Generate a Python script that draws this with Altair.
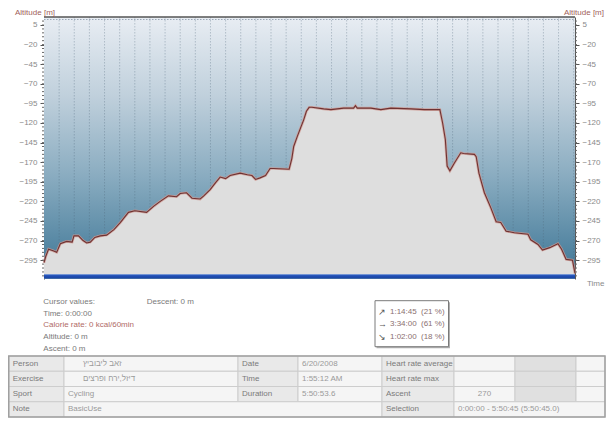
import altair as alt
import pandas as pd

# ---------------- data ----------------
time_h = [0.00, 0.02, 0.05, 0.10, 0.14, 0.18, 0.25, 0.31, 0.33, 0.38, 0.43, 0.47,
          0.51, 0.56, 0.62, 0.69, 0.77, 0.84, 0.93, 1.00, 1.13, 1.21, 1.28, 1.37,
          1.46, 1.50, 1.57, 1.63, 1.72, 1.76, 1.83, 1.89, 1.94, 2.00, 2.05, 2.16,
          2.24, 2.29, 2.33, 2.38, 2.44, 2.49, 2.53, 2.70, 2.73, 2.75, 2.79, 2.83,
          2.86, 2.89, 2.92, 2.95, 3.08, 3.16, 3.30, 3.41, 3.43, 3.45, 3.60, 3.71,
          3.82, 4.04, 4.19, 4.36, 4.39, 4.42, 4.44, 4.47, 4.52, 4.59, 4.62, 4.74,
          4.76, 4.79, 4.85, 4.92, 4.98, 5.03, 5.09, 5.18, 5.33, 5.36, 5.44, 5.49,
          5.57, 5.66, 5.70, 5.75, 5.82, 5.84, 5.848]
altitude_m = [-298, -290, -281, -283, -285, -274, -271, -272, -264, -264, -270, -273,
              -272, -266, -264, -263, -256, -247, -234, -232, -234, -226, -220, -213,
              -214, -210, -209, -216, -217, -213, -205, -196, -189, -191, -187, -184,
              -186, -187, -192, -190, -187, -178, -178, -179, -165, -150, -137, -125,
              -116, -105, -100, -100, -102, -103, -101, -101, -98, -101, -101, -103,
              -101, -102, -103, -103, -120, -141, -175, -181, -171, -158, -159, -160,
              -163, -184, -209, -228, -246, -247, -258, -260, -262, -269, -275, -282,
              -279, -274, -281, -294, -295, -307, -312]
area_floor_m = -318   # altitude at which the filled profile ends (bottom of plot)

x_hour_ticks = [0, 1, 2, 3, 4, 5]
y_major_ticks = [5, -20, -45, -70, -95, -120, -145, -170, -195, -220, -245, -270, -295]

axis_title_y = "Altitude [m]"
axis_title_x = "Time"

cursor_lines = ["Cursor values:", "Time: 0:00:00", "Calorie rate: 0 kcal/60min",
                "Altitude: 0 m", "Ascent: 0 m"]
cursor_side = "Descent: 0 m"

summary_arrows = ["\u2197", "\u2192", "\u2198"]
summary_times = ["1:14:45", "3:34:00", "1:02:00"]
summary_pcts = ["(21 %)", "(61 %)", "(18 %)"]

table_labels_a = ["Person", "Exercise", "Sport", "Note"]
table_values_a = ["זאב ליבוביץ", "דיזל,ירח ופרצים", "Cycling", "BasicUse"]
table_labels_b = ["Date", "Time", "Duration"]
table_values_b = ["6/20/2008", "1:55:12 AM", "5:50:53.6"]
table_labels_c = ["Heart rate average", "Heart rate max", "Ascent", "Selection"]
table_values_c = ["", "", "270", "0:00:00 - 5:50:45 (5:50:45.0)"]

# ---------------- layout / style ----------------
FONT = "Liberation Sans, Arial, Helvetica, sans-serif"
W, H = 531, 262
X_DOMAIN = [0, 5.848]
Y_DOMAIN = [-319, 15.2]
xs = alt.Scale(domain=X_DOMAIN, nice=False, zero=False)
ys = alt.Scale(domain=Y_DOMAIN, nice=False, zero=False)

TXT = "#7a7a7a"
VAL = "#9a9a9a"
TITLE_C = "#a0605a"

prof = pd.DataFrame({"t": time_h, "alt": altitude_m,
                     "floor": [area_floor_m] * len(time_h)})
one = pd.DataFrame({"k": [0]})

# background gradient of plot area
bg = alt.Chart(one).mark_rect(
    color=alt.Gradient(
        gradient="linear",
        stops=[alt.GradientStop(color="#e8edf3", offset=0),
               alt.GradientStop(color="#c0d0dc", offset=0.3),
               alt.GradientStop(color="#8badc1", offset=0.6),
               alt.GradientStop(color="#3c7595", offset=1)],
        x1=0, x2=0, y1=0, y2=1)
).encode(x=alt.value(0), x2=alt.value(W), y=alt.value(0), y2=alt.value(H))

# vertical dotted grid every 10 minutes
grid_df = pd.DataFrame({"g": [i / 6 for i in range(1, 36)]})
grid = alt.Chart(grid_df).mark_rule(
    color="#4f6678", strokeOpacity=0.32, strokeDash=[1.5, 1.5], strokeWidth=1
).encode(x=alt.X("g:Q", scale=xs, axis=None), y=alt.value(0), y2=alt.value(H - 1))

top_dots = alt.Chart(one).mark_rule(
    color="#8796a8", strokeDash=[1.5, 1.5], strokeWidth=1, strokeOpacity=0.8
).encode(x=alt.value(0), x2=alt.value(W), y=alt.value(2.5))

x_axis = alt.Axis(
    values=[i / 6 for i in range(36)],
    labelExpr="abs(datum.value - round(datum.value)) < 0.01 ? round(datum.value) + ':00:00' : ''",
    tickSize=3, tickColor="#8a8a8a", tickWidth=1, labelColor="#8a8a8a",
    labelFontSize=8, labelFont=FONT, labelPadding=3, domain=False, grid=False,
    title=None, labelFlush=False, labelOverlap=False, labelBound=False)


def y_axis(orient):
    return alt.Axis(orient=orient, values=y_major_ticks, format="d", tickSize=4,
                    tickColor="#555555", labelColor="#8a8a8a", labelFontSize=8,
                    labelFont=FONT, labelPadding=3, domain=True, domainColor="#555555",
                    domainWidth=1, grid=False, title=None, labelFlush=False,
                    labelOverlap=False)


area = alt.Chart(prof).mark_area(color="#dedede", opacity=1).encode(
    x=alt.X("t:Q", scale=xs, axis=x_axis),
    y=alt.Y("alt:Q", scale=ys, axis=y_axis("left")),
    y2="floor:Q")

halo = alt.Chart(prof).mark_line(color="#cf9a92", strokeWidth=2.6, opacity=0.8).encode(
    x=alt.X("t:Q", scale=xs, axis=None), y=alt.Y("alt:Q", scale=ys, axis=None))
line = alt.Chart(prof).mark_line(color="#6e3232", strokeWidth=1.1).encode(
    x=alt.X("t:Q", scale=xs, axis=None), y=alt.Y("alt:Q", scale=ys, axis=None))

right_axis = alt.Chart(prof).mark_line(strokeOpacity=0).encode(
    x=alt.X("t:Q", scale=xs, axis=None),
    y=alt.Y("alt:Q", scale=ys, axis=y_axis("right")))

blue = alt.Chart(one).mark_rect(
    color=alt.Gradient(gradient="linear",
                       stops=[alt.GradientStop(color="#5a86d8", offset=0),
                              alt.GradientStop(color="#2150b6", offset=0.35),
                              alt.GradientStop(color="#1a43a3", offset=1)],
                       x1=0, x2=0, y1=0, y2=1)
).encode(x=alt.value(0), x2=alt.value(W), y=alt.value(H - 4.8), y2=alt.value(H - 0.6))

top_border = alt.Chart(one).mark_rule(color="#555555", strokeWidth=1.6).encode(
    x=alt.value(0), x2=alt.value(W), y=alt.value(0))

minor_df = pd.DataFrame({"v": list(range(-315, 11, 5))})
minor_l = alt.Chart(minor_df).mark_rule(color="#666666", strokeWidth=1).encode(
    y=alt.Y("v:Q", scale=ys, axis=None), x=alt.value(-2), x2=alt.value(0))
minor_r = alt.Chart(minor_df).mark_rule(color="#666666", strokeWidth=1).encode(
    y=alt.Y("v:Q", scale=ys, axis=None), x=alt.value(W), x2=alt.value(W + 2))


def label(text, x, y, color=TXT, align="left", size=8, baseline="middle"):
    return alt.Chart(one).mark_text(
        text=text, align=align, baseline=baseline, fontSize=size, font=FONT, color=color
    ).encode(x=alt.value(x), y=alt.value(y))


texts = [
    label(axis_title_y, -29, -2.5, TITLE_C, baseline="alphabetic"),
    label(axis_title_y, 560, -2.5, TITLE_C, align="right", baseline="alphabetic"),
    label(axis_title_x, 543, 266.5, "#8a8a8a"),
    label(cursor_side, 102.7, 285, TXT),
]
cursor_y = [285, 296.7, 308.4, 320, 331.5]
for i, s in enumerate(cursor_lines):
    texts.append(label(s, -0.7, cursor_y[i], "#b06a66" if i == 2 else TXT))

# summary box
box_shadow = alt.Chart(one).mark_rect(fill="#b0b0b0").encode(
    x=alt.value(332.5), x2=alt.value(406), y=alt.value(285.2), y2=alt.value(331.2))
box = alt.Chart(one).mark_rect(fill="white", stroke="#7a7a7a", strokeWidth=1).encode(
    x=alt.value(331), x2=alt.value(404.5), y=alt.value(283.7), y2=alt.value(329.7))
summary_y = [294.5, 306.5, 319.5]
for i in range(3):
    texts.append(label(summary_arrows[i], 334, summary_y[i], "#555555", size=9))
    texts.append(label(summary_times[i], 346, summary_y[i], "#8a7070"))
    texts.append(label(summary_pcts[i], 377, summary_y[i], "#8a7070"))

# ---------------- table ----------------
col_px = [-35.25, 20, 194, 254, 338, 410, 471, 532, 561]
row_px = [339, 354.25, 369.5, 384.75, 400]
FILL = {"label": "#e9e9e9", "value": "#f5f5f5", "dark": "#e0e0e0"}

cells = []   # (row, c0, c1, kind, text, align)
for r in range(4):
    cells.append((r, 0, 1, "label", table_labels_a[r], "left"))
    if r < 3:
        cells.append((r, 1, 2, "value", table_values_a[r], "left"))
        cells.append((r, 2, 3, "label", table_labels_b[r], "left"))
        cells.append((r, 3, 4, "value", table_values_b[r], "left"))
        cells.append((r, 4, 5, "label", table_labels_c[r], "left"))
        cells.append((r, 5, 6, "value", table_values_c[r], "center"))
        cells.append((r, 6, 7, "dark", "", "left"))
        cells.append((r, 7, 8, "value", "", "left"))
    else:
        cells.append((r, 1, 4, "value", table_values_a[r], "left"))
        cells.append((r, 4, 5, "label", table_labels_c[r], "left"))
        cells.append((r, 5, 8, "value", table_values_c[r], "left"))

rect_rows, text_rows, ctext_rows = [], [], []
for r, c0, c1, kind, s, al in cells:
    rect_rows.append({"x": col_px[c0], "x2": col_px[c1], "y": row_px[r],
                      "y2": row_px[r + 1], "fill": FILL[kind]})
    if s:
        is_heb = any("\u0590" <= ch <= "\u05ff" for ch in s)
        ty = (row_px[r] + row_px[r + 1]) / 2
        col = TXT if kind == "label" else VAL
        if al == "center":
            ctext_rows.append({"x": (col_px[c0] + col_px[c1]) / 2, "y": ty, "s": s, "c": col})
        else:
            text_rows.append({"x": col_px[c0] + (19 if is_heb else 4), "y": ty, "s": s, "c": col})

rect_df = pd.DataFrame(rect_rows)
cells_l = alt.Chart(rect_df).mark_rect(stroke="#cdcdcd", strokeWidth=1).encode(
    x=alt.X("x:Q", scale=None), x2="x2:Q", y=alt.Y("y:Q", scale=None), y2="y2:Q",
    fill=alt.Fill("fill:N", scale=None))
outer = alt.Chart(one).mark_rect(fill=None, stroke="#a0a0a0", strokeWidth=1.5).encode(
    x=alt.value(col_px[0]), x2=alt.value(col_px[-1]), y=alt.value(row_px[0]),
    y2=alt.value(row_px[-1]))
ttext = alt.Chart(pd.DataFrame(text_rows)).mark_text(
    align="left", baseline="middle", fontSize=8, font=FONT).encode(
    x=alt.X("x:Q", scale=None), y=alt.Y("y:Q", scale=None), text="s:N",
    color=alt.Color("c:N", scale=None))
ctext = alt.Chart(pd.DataFrame(ctext_rows)).mark_text(
    align="center", baseline="middle", fontSize=8, font=FONT).encode(
    x=alt.X("x:Q", scale=None), y=alt.Y("y:Q", scale=None), text="s:N",
    color=alt.Color("c:N", scale=None))

chart = alt.layer(
    bg, grid, top_dots, area, halo, line, right_axis, blue, top_border,
    minor_l, minor_r, box_shadow, box, cells_l, outer, ttext, ctext, *texts
).resolve_axis(y="independent").properties(
    width=W, height=H,
    padding={"left": 36, "top": 9, "right": 31, "bottom": 139},
    autosize=alt.AutoSizeParams(type="none"),
    background="white",
).configure_view(stroke=None)

chart.save("out.html", embed_options={"renderer": "svg", "actions": False})
